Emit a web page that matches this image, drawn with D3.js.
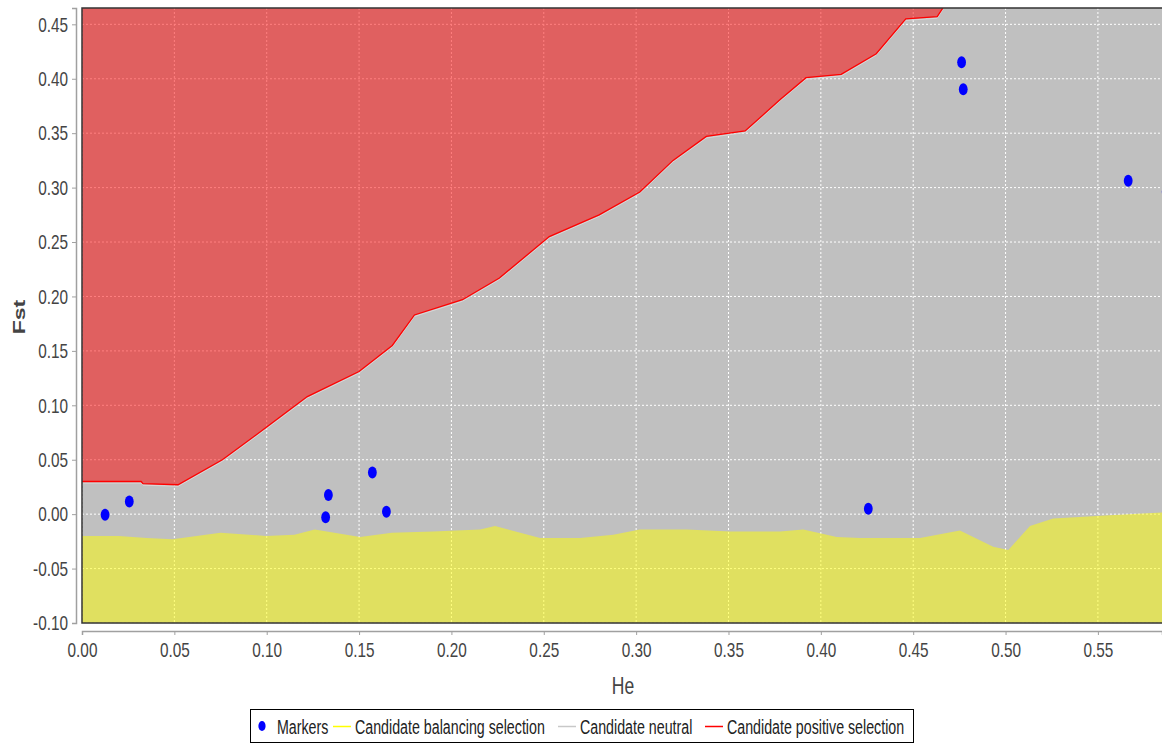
<!DOCTYPE html>
<html>
<head>
<meta charset="utf-8">
<script src="https://cdn.jsdelivr.net/npm/d3@7"></script>
<style>
  body { margin: 0; background: #fff; }
  text { font-family: "Liberation Sans", Arial, sans-serif; }
</style>
</head>
<body>
<script>
// ticks
var heTicks = [0, 0.05, 0.10, 0.15, 0.20, 0.25, 0.30, 0.35, 0.40, 0.45, 0.50, 0.55];
var fstTicks = [-0.10, -0.05, 0, 0.05, 0.10, 0.15, 0.20, 0.25, 0.30, 0.35, 0.40, 0.45];

// upper limit (positive selection above this)
var positiveBoundary = [
  [0, 0.030], [0.032, 0.030], [0.033, 0.028], [0.052, 0.027], [0.076, 0.050],
  [0.100, 0.080], [0.122, 0.108], [0.150, 0.131], [0.168, 0.155], [0.180, 0.183],
  [0.206, 0.197], [0.226, 0.217], [0.253, 0.255], [0.280, 0.275], [0.302, 0.296],
  [0.320, 0.325], [0.338, 0.347], [0.359, 0.352], [0.378, 0.381], [0.392, 0.401],
  [0.411, 0.404], [0.430, 0.423], [0.446, 0.455], [0.463, 0.457], [0.468, 0.470]
];

// lower limit (balancing selection below this)
var balancingBoundary = [
  [0, -0.020], [0.020, -0.020], [0.035, -0.022], [0.049, -0.023], [0.075, -0.017],
  [0.0996, -0.020], [0.115, -0.019], [0.126, -0.014], [0.1505, -0.021], [0.1678, -0.017],
  [0.190, -0.016], [0.2155, -0.014], [0.2236, -0.011], [0.248, -0.022], [0.2696, -0.022],
  [0.2876, -0.019], [0.302, -0.014], [0.3274, -0.014], [0.351, -0.016], [0.3779, -0.016],
  [0.3905, -0.014], [0.4086, -0.021], [0.4212, -0.022], [0.4537, -0.022], [0.4753, -0.015],
  [0.4933, -0.030], [0.5015, -0.033], [0.5132, -0.011], [0.5258, -0.004], [0.5565, -0.001],
  [0.5847, 0.0015]
];

// markers: [He, Fst]
var markers = [
  [0.0125, -0.0006], [0.0256, 0.0116], [0.1319, -0.0028], [0.1334, 0.0177],
  [0.1572, 0.0382], [0.1648, 0.0021], [0.4257, 0.0049], [0.4762, 0.4151],
  [0.4771, 0.3903], [0.5664, 0.3064], [0.5870, 0.2960]
];

var legendItems = ["Markers", "Candidate balancing selection", "Candidate neutral", "Candidate positive selection"];
var legendColors = ["#0000ff", "#ffff00", "#c8c8c8", "#ff0000"];

var W = 1162, H = 744;
var plot = {left: 82, top: 8, right: 1162, bottom: 623};
var sx = 0.73; // the original text is narrow and tall

var svg = d3.select("body").append("svg")
  .attr("width", W)
  .attr("height", H);

var x = d3.scaleLinear().domain([0, 0.5847]).range([plot.left, plot.right]);
var y = d3.scaleLinear().domain([-0.10, 0.465]).range([plot.bottom, plot.top]);

svg.append("clipPath").attr("id", "clip")
  .append("rect")
  .attr("x", plot.left).attr("y", plot.top)
  .attr("width", plot.right - plot.left).attr("height", plot.bottom - plot.top);

var g = svg.append("g").attr("clip-path", "url(#clip)");

// background = neutral zone
g.append("rect")
  .attr("x", plot.left).attr("y", plot.top)
  .attr("width", plot.right - plot.left).attr("height", plot.bottom - plot.top)
  .attr("fill", "#c0c0c0");

// grid
g.selectAll(".vgrid").data(heTicks).enter().append("line")
  .attr("x1", function(d) { return x(d); }).attr("x2", function(d) { return x(d); })
  .attr("y1", plot.top).attr("y2", plot.bottom)
  .attr("stroke", "#fff").attr("stroke-width", 1).attr("stroke-dasharray", "2,2");
g.selectAll(".hgrid").data(fstTicks).enter().append("line")
  .attr("y1", function(d) { return y(d); }).attr("y2", function(d) { return y(d); })
  .attr("x1", plot.left).attr("x2", plot.right)
  .attr("stroke", "#fff").attr("stroke-width", 1).attr("stroke-dasharray", "2,2");

// areas
var redArea = d3.area()
  .x(function(d) { return x(d[0]); })
  .y0(plot.top - 5)
  .y1(function(d) { return y(d[1]); });
var yellowArea = d3.area()
  .x(function(d) { return x(d[0]); })
  .y0(plot.bottom + 5)
  .y1(function(d) { return y(d[1]); });

g.append("path")
  .datum(positiveBoundary)
  .attr("d", redArea)
  .attr("fill", "rgba(255,0,0,0.5)");

g.append("path")
  .datum(balancingBoundary)
  .attr("d", yellowArea)
  .attr("fill", "rgba(255,255,0,0.5)");

var line = d3.line()
  .x(function(d) { return x(d[0]); })
  .y(function(d) { return y(d[1]); });

g.append("path")
  .datum(positiveBoundary)
  .attr("d", line)
  .attr("transform", "translate(0,1.5)")
  .attr("fill", "none")
  .attr("stroke", "#d8d8d8")
  .attr("stroke-width", 1);

g.append("path")
  .datum(positiveBoundary)
  .attr("d", line)
  .attr("fill", "none")
  .attr("stroke", "#ff0000")
  .attr("stroke-width", 1.3);

// markers
g.selectAll(".marker").data(markers).enter().append("ellipse")
  .attr("cx", function(d) { return x(d[0]); })
  .attr("cy", function(d) { return y(d[1]); })
  .attr("rx", 4.4).attr("ry", 6)
  .attr("fill", "#0000ff");

// plot outline (top, left, bottom)
svg.append("path")
  .attr("d", "M" + plot.right + "," + plot.top + "H" + plot.left + "V" + plot.bottom + "H" + plot.right)
  .attr("fill", "none")
  .attr("stroke", "#333")
  .attr("stroke-width", 1.5);

// axes
var xAxis = d3.axisBottom(x).tickValues(heTicks).tickFormat(d3.format(".2f")).tickSize(4).tickPadding(7);
var yAxis = d3.axisLeft(y).tickValues(fstTicks).tickFormat(d3.format(".2f")).tickSize(4);

var gx = svg.append("g")
  .attr("transform", "translate(0," + (plot.bottom + 8) + ")")
  .call(xAxis);
var gy = svg.append("g")
  .attr("transform", "translate(" + (plot.left - 6) + ",0)")
  .call(yAxis);

[gx, gy].forEach(function(a) {
  a.select(".domain").attr("stroke", "#a0a0a0").attr("stroke-width", 1.5);
  a.selectAll(".tick line").attr("stroke", "#a0a0a0");
  a.selectAll(".tick text")
    .attr("fill", "#444")
    .attr("transform", "scale(" + sx + ",1)")
    .style("font-size", "21px")
    .style("font-family", "Liberation Sans, Arial, sans-serif");
});
gy.selectAll(".tick text")
  .attr("x", -8 / sx)
  .text(function(d) { return d3.format(".2f")(d).replace("\u2212", "-"); });

// axis labels
svg.append("text")
  .attr("transform", "translate(623,694) scale(" + sx + ",1)")
  .attr("text-anchor", "middle")
  .attr("fill", "#444")
  .style("font-size", "24px")
  .text("He");

svg.append("text")
  .attr("transform", "translate(25,317) scale(" + sx + ",1) rotate(-90)")
  .attr("text-anchor", "middle")
  .attr("fill", "#444")
  .style("font-size", "23px")
  .style("font-weight", "bold")
  .text("Fst");

// legend
var legend = svg.append("g");
legend.append("rect")
  .attr("x", 250.5).attr("y", 709.5)
  .attr("width", 663).attr("height", 33)
  .attr("fill", "#fff")
  .attr("stroke", "#000");

var legendX = [277, 355, 580, 727];
legendItems.forEach(function(name, i) {
  var lx = legendX[i];
  if (i === 0) {
    legend.append("ellipse")
      .attr("cx", 262).attr("cy", 726)
      .attr("rx", 3.6).attr("ry", 5)
      .attr("fill", legendColors[i]);
  } else {
    legend.append("line")
      .attr("x1", lx - 22).attr("x2", lx - 4)
      .attr("y1", 726.5).attr("y2", 726.5)
      .attr("stroke", legendColors[i]).attr("stroke-width", 1.5);
  }
  legend.append("text")
    .attr("transform", "translate(" + lx + ",734) scale(" + sx + ",1)")
    .attr("fill", "#222")
    .style("font-size", "19.5px")
    .text(name);
});
</script>
</body>
</html>
